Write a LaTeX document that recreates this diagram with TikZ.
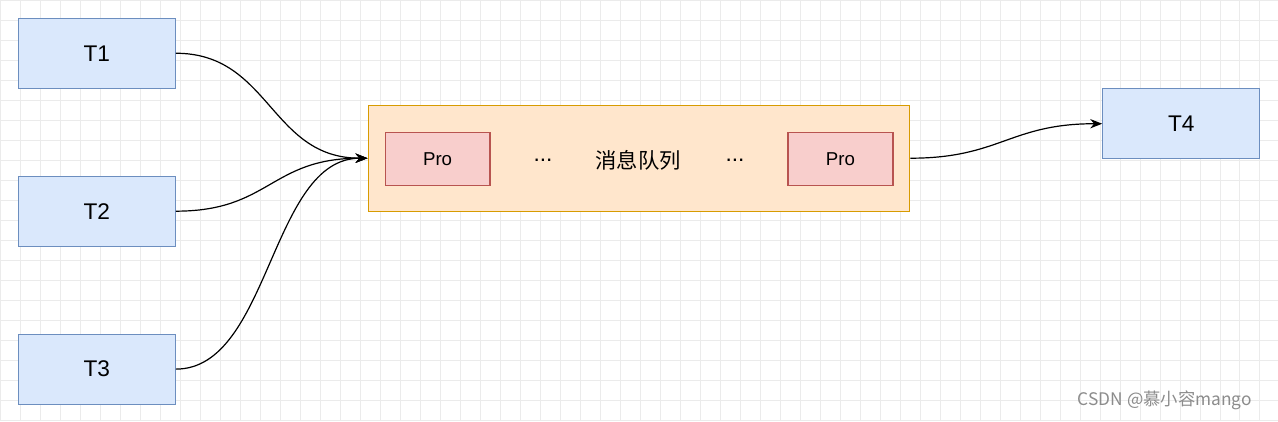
\documentclass[tikz,border=0pt]{standalone}
\usepackage{fontspec}
\setmainfont{Liberation Sans}
\newfontfamily\cjk{Noto Sans CJK SC}
\usetikzlibrary{arrows.meta}
\definecolor{taskfill}{HTML}{DAE8FC}
\definecolor{taskline}{HTML}{6C8EBF}
\definecolor{profill}{HTML}{F8CECC}
\definecolor{proline}{HTML}{B85450}
\definecolor{queuefill}{HTML}{FFE6CC}
\definecolor{queueline}{HTML}{D79B00}
\begin{document}
\begin{tikzpicture}[x=0.75pt,y=-0.75pt,
  task/.style={draw=taskline,fill=taskfill,line width=0.9pt,font=\fontsize{17}{20}\selectfont},
  probox/.style={draw=proline,fill=profill,line width=0.9pt,font=\fontsize{14}{16}\selectfont},
  queuebox/.style={draw=queueline,fill=queuefill,line width=0.9pt},
  link/.style={-{Stealth[length=9pt,width=7pt]},line width=0.9pt}]
\fill[white] (0,0) rectangle (1278,421);
\foreach \x in {0,20,...,1278} \draw[black!8,line width=0.4pt] (\x,0) -- (\x,421);
\foreach \y in {0,20,...,421} \draw[black!8,line width=0.4pt] (0,\y) -- (1278,\y);
\useasboundingbox (0,0) rectangle (1278,421);

\node[task,minimum width=117.75pt,minimum height=52.5pt] (T1) at (96.5,53) {T1};
\node[task,minimum width=117.75pt,minimum height=52.5pt] (T2) at (96.5,211) {T2};
\node[task,minimum width=117.75pt,minimum height=52.5pt] (T3) at (96.5,369) {T3};
\node[task,minimum width=117.75pt,minimum height=52.5pt] (T4) at (1181.5,123.5) {T4};

\node[queuebox,minimum width=406.5pt,minimum height=79.5pt] (Q) at (639,158) {};
\node[probox,minimum width=78.75pt,minimum height=39.75pt] (P1) at (437.5,158.5) {Pro};
\node[probox,minimum width=78.75pt,minimum height=39.75pt] (P2) at (840.5,158.5) {Pro};
\node[font=\fontsize{17}{20}\selectfont] (d1) at (543,160) {...};
\node[font=\cjk\fontsize{16}{19}\selectfont] (name) at (638,160) {消息队列};
\node[font=\fontsize{17}{20}\selectfont] (d2) at (735,160) {...};

\draw[link] (T1.east) .. controls (270,53) and (270,158) .. (Q.west);
\draw[link] (T2.east) .. controls (270,211) and (270,158) .. (Q.west);
\draw[link] (T3.east) .. controls (270,369) and (270,158) .. (Q.west);
\draw[link] (Q.east) .. controls (1000,158) and (1010,123.5) .. (T4.west);

\node[black!45,font=\cjk\fontsize{13}{15}\selectfont] (mark) at (1165,400) {CSDN @慕小容mango};
\end{tikzpicture}
\end{document}
